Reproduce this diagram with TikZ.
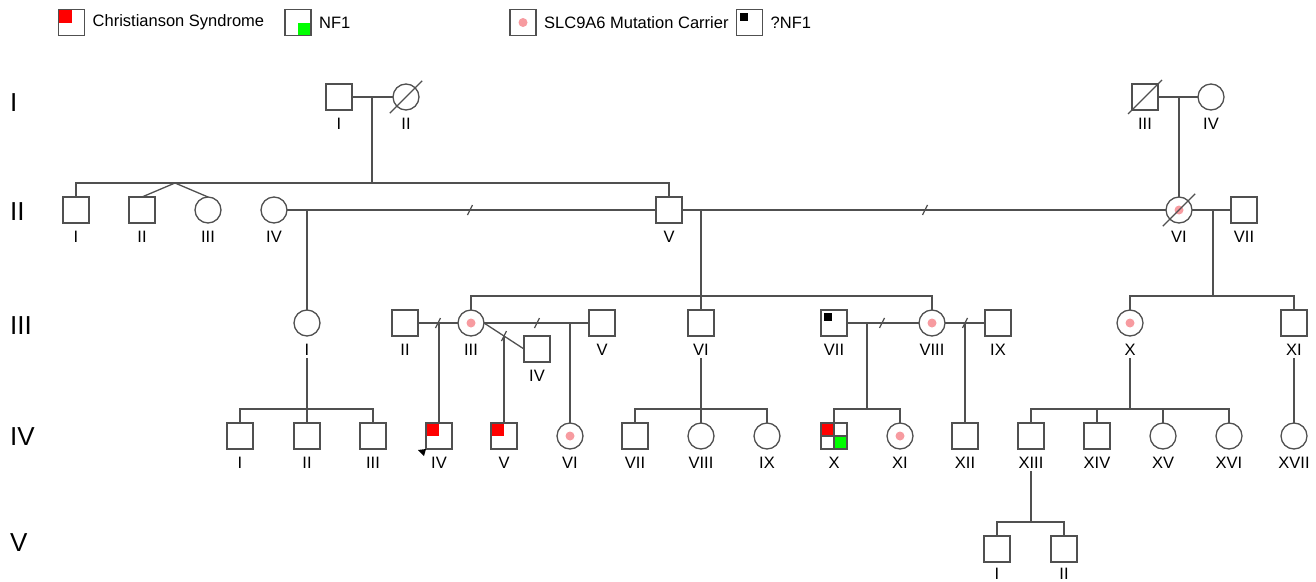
\documentclass[tikz,border=0pt]{standalone}
\usepackage{fontspec}
\setmainfont{Liberation Sans}
\usetikzlibrary{positioning}
\definecolor{pedline}{RGB}{80,80,80}
\definecolor{csred}{RGB}{255,0,0}
\definecolor{nfgreen}{RGB}{0,255,0}
\definecolor{carrier}{RGB}{247,155,160}

\begin{document}
\begin{tikzpicture}[x=1pt,y=-1pt,
  link/.style={draw=pedline,line width=1.3pt},
  male/.style={link,rectangle,minimum size=26pt,inner sep=0pt,outer sep=0pt},
  female/.style={male,circle},
  cs/.style={male,path picture={\fill[csred] (path picture bounding box.north west) rectangle (path picture bounding box.center);}},
  nfm/.style={male,path picture={\fill[nfgreen] (path picture bounding box.center) rectangle (path picture bounding box.south east);}},
  csnf/.style={male,path picture={
    \fill[csred] (path picture bounding box.north west) rectangle (path picture bounding box.center);
    \fill[nfgreen] (path picture bounding box.center) rectangle (path picture bounding box.south east);
    \draw[link] (path picture bounding box.north) -- (path picture bounding box.south)
                (path picture bounding box.west) -- (path picture bounding box.east);}},
  carf/.style={female,path picture={\fill[carrier] (path picture bounding box.center) circle (4.5);}},
  carm/.style={male,path picture={\fill[carrier] (path picture bounding box.center) circle (4.5);}},
  qnf/.style={male,path picture={\fill (path picture bounding box.north west) ++(3,3) rectangle ++(8,8);}},
  idtag/.style={font=\fontsize{16.5}{18}\selectfont,inner sep=2pt},
  legtxt/.style={font=\fontsize{16.5}{18}\selectfont,inner sep=2pt},
  gentag/.style={font=\fontsize{26}{28}\selectfont,anchor=west,inner sep=0pt}]
\useasboundingbox (0,0) rectangle (1316,581);

% legend
\node[cs] (k1) at (71.5,22.5) {};
\node[legtxt,right=6pt of k1] (t1) {Christianson Syndrome};
\node[nfm] (k2) at (298,22.5) {};
\node[legtxt,right=6pt of k2] (t2) {NF1};
\node[carm] (k3) at (523,22.5) {};
\node[legtxt,right=6pt of k3] (t3) {SLC9A6 Mutation Carrier};
\node[qnf] (k4) at (749.5,22.5) {};
\node[legtxt,right=6pt of k4] (t4) {?NF1};

% generations
\foreach \g/\y in {I/103,II/212,III/326,IV/437,V/543}
  \node[gentag] (gen\g) at (10,\y) {\g};

\foreach \n/\x/\s/\t in {a1/339/male/I,a2/406/female/II,a3/1145/male/III,a4/1211/female/IV}
  {\node[\s] (\n) at (\x,97) {}; \node[idtag] (l\n) at (\x,124) {\t};}
\foreach \n/\x/\s/\t in {b1/76/male/I,b2/142/male/II,b3/208/female/III,b4/274/female/IV,
    b5/669/male/V,b6/1179/carf/VI,b7/1244/male/VII}
  {\node[\s] (\n) at (\x,210) {}; \node[idtag] (l\n) at (\x,237) {\t};}
\foreach \n/\x/\s/\t in {c1/307/female/I,c2/405/male/II,c3/471/carf/III,c5/602/male/V,
    c6/701/male/VI,c7/834/qnf/VII,c8/932/carf/VIII,c9/998/male/IX,c10/1130/carf/X,c11/1294/male/XI}
  {\node[\s] (\n) at (\x,323) {}; \node[idtag] (l\n) at (\x,350) {\t};}
\node[male] (c4) at (537,349) {};
\node[idtag] (lc4) at (537,376) {IV};
\foreach \n/\x/\s/\t in {d1/240/male/I,d2/307/male/II,d3/373/male/III,d4/439/cs/IV,d5/504/cs/V,
    d6/570/carf/VI,d7/635/male/VII,d8/701/female/VIII,d9/767/female/IX,d10/834/csnf/X,
    d11/900/carf/XI,d12/965/male/XII,d13/1031/male/XIII,d14/1097/male/XIV,d15/1163/female/XV,
    d16/1229/female/XVI,d17/1294/female/XVII}
  {\node[\s] (\n) at (\x,436) {}; \node[idtag] (l\n) at (\x,463) {\t};}
\foreach \n/\x/\t in {e1/997/I,e2/1064/II}
  {\node[male] (\n) at (\x,549) {}; \node[idtag] (l\n) at (\x,574) {\t};}

% outline again over the fills
\foreach \n in {k1,k2,d4,d5,d10}
  \draw[link] (\n.north west) rectangle (\n.south east);

% deceased
\draw[link] ([shift={(-7,7)}]a2.south west) -- ([shift={(7,-7)}]a2.north east);
\draw[link] ([shift={(-4,4)}]a3.south west) -- ([shift={(4,-4)}]a3.north east);
\draw[link] ([shift={(-7,7)}]b6.south west) -- ([shift={(7,-7)}]b6.north east);
% proband
\fill (d4.south west) -- ++(-8,1) -- ++(6,6) -- cycle;

% I -> II
\coordinate (m1) at (372,97);
\coordinate (s1) at (372,183);
\coordinate (tw) at (175,183);
\coordinate (m2) at (1179,97);
\draw[link] (a1) -- (a2);
\draw[link] (a3) -- (a4);
\draw[link] (m1) -- (s1);
\draw[link] (b1.north) |- (s1) -| (b5.north);
\draw[link] (b2.north) -- (tw) -- (b3.north);
\draw[link] (m2) -- (b6.north);

% II -> III
\coordinate (m3) at (307,210);
\coordinate (m4) at (701,210);
\coordinate (m5) at (1213,210);
\coordinate (s5) at (1213,296);
\draw[link] (b4) -- (b5);
\draw[link] (b5) -- (b6);
\draw[link] (b6) -- (b7);
\draw[link] (m3) -- (c1.north);
\draw[link] (m4) -- (c6.north);
\draw[link] (c3.north) -- ++(0,-14) -| (c8.north);
\draw[link] (m5) -- (s5);
\draw[link] (c10.north) |- (s5) -| (c11.north);

% III -> IV
\coordinate (m6) at (439,323);
\coordinate (m7) at (504,336);
\coordinate (m8) at (570,323);
\coordinate (m9) at (867,323);
\coordinate (s9) at (867,409);
\coordinate (m10) at (965,323);
\coordinate (s10) at (1130,409);
\draw[link] (c2) -- (c3);
\draw[link] (c3.east) -- (c4.west);
\draw[link] (c3) -- (c5);
\draw[link] (c7) -- (c8);
\draw[link] (c8) -- (c9);
\draw[link] (m6) -- (d4.north);
\draw[link] (m7) -- (d5.north);
\draw[link] (m8) -- (d6.north);
\draw[link] (m9) -- (s9);
\draw[link] (d10.north) |- (s9) -| (d11.north);
\draw[link] (m10) -- (d12.north);
\draw[link] (lc1.south) -- (d2.north);
\draw[link] (d1.north) -- ++(0,-14) -| (d3.north);
\draw[link] (lc6.south) -- (d8.north);
\draw[link] (d7.north) -- ++(0,-14) -| (d9.north);
\draw[link] (lc10.south) -- (s10);
\draw[link] (d13.north) -- ++(0,-14) -| (d16.north);
\draw[link] (d14.north) -- ++(0,-14);
\draw[link] (d15.north) -- ++(0,-14);
\draw[link] (lc11.south) -- (d17.north);

% IV -> V
\coordinate (s13) at (1031,522);
\draw[link] (ld13.south) -- (s13);
\draw[link] (e1.north) |- (s13) -| (e2.north);

% separations
\foreach \p in {(470,210),(925,210),(438,323),(504,336),(537,323),(882,323),(965,323)}
  \draw[link] \p ++(-2.5,5) -- ++(5,-10);
\end{tikzpicture}
\end{document}
